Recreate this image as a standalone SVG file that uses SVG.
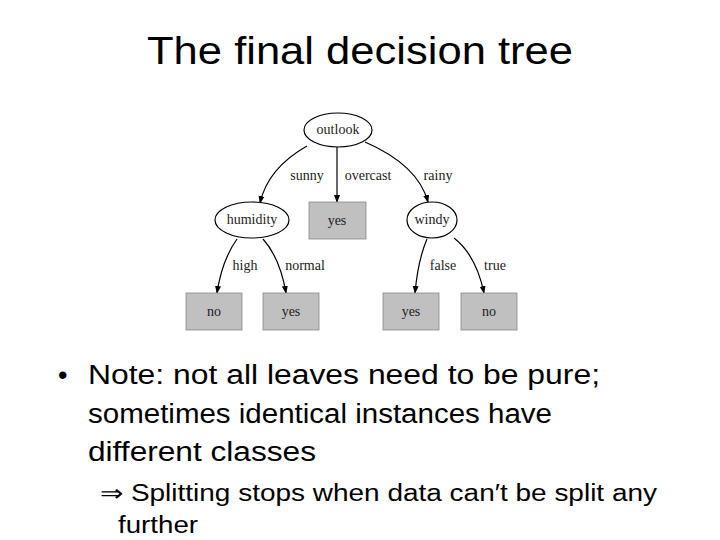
<svg xmlns="http://www.w3.org/2000/svg" width="720" height="540" viewBox="0 0 720 540">
<style>
.t{font-family:"Liberation Serif",serif;font-size:14px;fill:#222}
.ell{fill:#fff;stroke:#000;stroke-width:1.2}
.leaf{fill:#c0c0c0;stroke:#888;stroke-width:0.8}
.e{fill:none;stroke:#000;stroke-width:1.2;marker-end:url(#a)}
.s{font-family:"Liberation Sans",Arial,sans-serif;fill:#000}
</style>
<defs><marker id="a" markerWidth="8" markerHeight="8" refX="7" refY="4" orient="auto" markerUnits="userSpaceOnUse"><path d="M0,1 L8,4 L0,7 z" fill="#000"/></marker></defs>
<rect width="720" height="540" fill="#fff"/>
<text class="s" x="147" y="64" font-size="38" textLength="426" lengthAdjust="spacingAndGlyphs">The final decision tree</text>
<g id="connectors">
<path class="e" d="M307,146 Q268,168 260,203"/>
<path class="e" d="M337,147 L337,202"/>
<path class="e" d="M365,142 Q418,165 428,202"/>
<path class="e" d="M237,239 Q222,260 217,293"/>
<path class="e" d="M263,239 Q280,258 286,293"/>
<path class="e" d="M427,239 Q418,260 415,293"/>
<path class="e" d="M454,238 Q476,255 484,293"/>
<text class="t" x="307" y="180" text-anchor="middle">sunny</text>
<text class="t" x="368" y="180" text-anchor="middle">overcast</text>
<text class="t" x="438" y="180" text-anchor="middle">rainy</text>
<text class="t" x="245" y="270" text-anchor="middle">high</text>
<text class="t" x="305" y="270" text-anchor="middle">normal</text>
<text class="t" x="443" y="270" text-anchor="middle">false</text>
<text class="t" x="495" y="270" text-anchor="middle">true</text>
</g>
<g id="outlook"><ellipse class="ell" cx="338" cy="130" rx="34" ry="17"/><text class="t" x="338" y="134" text-anchor="middle">outlook</text></g>
<g id="yes1"><rect class="leaf" x="309" y="202" width="57" height="37"/><text class="t" x="337" y="225" text-anchor="middle">yes</text></g>
<g id="humidity"><ellipse class="ell" cx="252" cy="220" rx="37" ry="18"/><text class="t" x="252" y="224" text-anchor="middle">humidity</text></g>
<g id="windy"><ellipse class="ell" cx="432" cy="220" rx="25" ry="18"/><text class="t" x="432" y="224" text-anchor="middle">windy</text></g>
<g id="no1"><rect class="leaf" x="186" y="293" width="56" height="37"/><text class="t" x="214" y="316" text-anchor="middle">no</text></g>
<g id="yes2"><rect class="leaf" x="263" y="293" width="56" height="37"/><text class="t" x="291" y="316" text-anchor="middle">yes</text></g>
<g id="yes3"><rect class="leaf" x="383" y="293" width="56" height="37"/><text class="t" x="411" y="316" text-anchor="middle">yes</text></g>
<g id="no2"><rect class="leaf" x="461" y="293" width="56" height="37"/><text class="t" x="489" y="316" text-anchor="middle">no</text></g>
<g class="s" font-size="27">
<text x="58" y="384">•</text>
<text x="88" y="384" textLength="512" lengthAdjust="spacingAndGlyphs">Note: not all leaves need to be pure;</text>
<text x="88" y="423" textLength="464" lengthAdjust="spacingAndGlyphs">sometimes identical instances have</text>
<text x="88" y="461" textLength="228" lengthAdjust="spacingAndGlyphs">different classes</text>
</g>
<g class="s" font-size="23">
<text x="100" y="501" textLength="557" lengthAdjust="spacingAndGlyphs">⇒ Splitting stops when data can′t be split any</text>
<text x="118" y="533" textLength="80" lengthAdjust="spacingAndGlyphs">further</text>
</g>
</svg>
